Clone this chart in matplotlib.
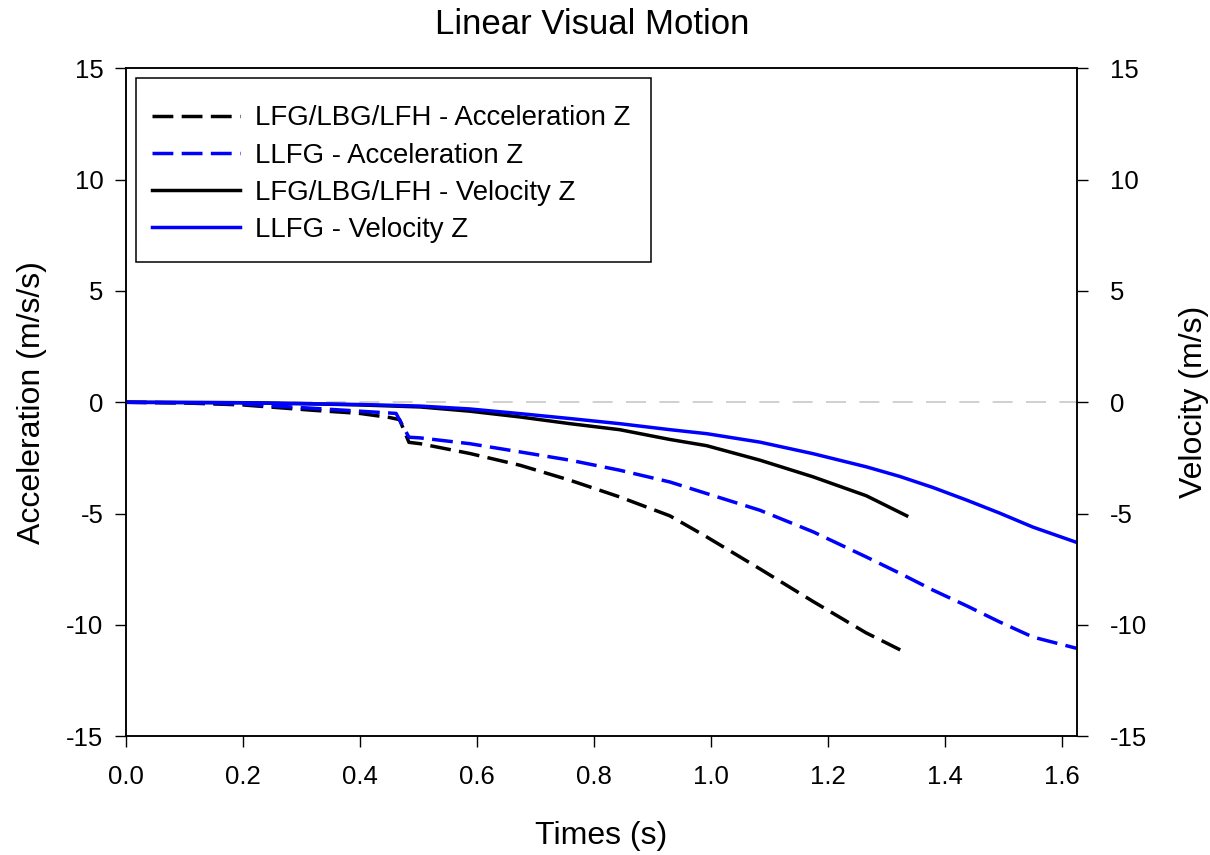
import matplotlib
matplotlib.use("Agg")
import matplotlib.pyplot as plt
from matplotlib.patches import Rectangle

plt.rcParams["font.family"] = ["Liberation Sans", "DejaVu Sans"]
plt.rcParams["axes.unicode_minus"] = False

t_acc_lfg = [0, 0.1, 0.2, 0.32, 0.40, 0.45, 0.468, 0.484, 0.503, 0.588, 0.674, 0.759,
             0.844, 0.930, 0.99, 1.085, 1.175, 1.265, 1.335]
acc_lfg = [0, -0.03, -0.12, -0.36, -0.5, -0.68, -0.78, -1.8, -1.86, -2.3, -2.83, -3.5,
           -4.25, -5.1, -6.0, -7.5, -8.95, -10.35, -11.27]

t_acc_llfg = [0, 0.1, 0.2, 0.32, 0.40, 0.462, 0.484, 0.503, 0.588, 0.674, 0.759, 0.844,
              0.930, 0.993, 1.084, 1.175, 1.266, 1.323, 1.380, 1.438, 1.494, 1.551,
              1.591, 1.625]
acc_llfg = [0, -0.02, -0.08, -0.27, -0.4, -0.5, -1.57, -1.6, -1.86, -2.23, -2.6, -3.05,
            -3.58, -4.1, -4.85, -5.82, -6.95, -7.68, -8.44, -9.15, -9.87, -10.55,
            -10.82, -11.05]

t_vel_lfg = [0, 0.2, 0.3, 0.4, 0.503, 0.588, 0.674, 0.759, 0.844, 0.930, 0.993, 1.084,
             1.175, 1.266, 1.335]
vel_lfg = [0, -0.02, -0.06, -0.12, -0.21, -0.4, -0.66, -0.96, -1.23, -1.67, -1.95, -2.6,
           -3.35, -4.2, -5.1]

t_vel_llfg = [0, 0.2, 0.3, 0.4, 0.503, 0.588, 0.674, 0.759, 0.844, 0.930, 0.993, 1.084,
              1.175, 1.266, 1.323, 1.380, 1.438, 1.494, 1.551, 1.625]
vel_llfg = [0, -0.02, -0.06, -0.1, -0.17, -0.3, -0.51, -0.73, -0.96, -1.23, -1.41, -1.79,
            -2.31, -2.9, -3.33, -3.83, -4.4, -4.98, -5.61, -6.29]

labels = [
    "LFG/LBG/LFH - Acceleration Z",
    "LLFG - Acceleration Z",
    "LFG/LBG/LFH - Velocity Z",
    "LLFG - Velocity Z",
]

x_ticks = [0.0, 0.2, 0.4, 0.6, 0.8, 1.0, 1.2, 1.4, 1.6]
y_ticks = [-15, -10, -5, 0, 5, 10, 15]

fig = plt.figure(figsize=(12.1, 8.55), dpi=100)
ax = fig.add_axes([0.104, 0.139, 0.786, 0.781])
ax2 = ax.twinx()

lw = 2.5
dash = (6.0, 2.4)
ax.axhline(0, color="#c8c8c8", lw=1.2, dashes=(12, 8), zorder=0)
h1, = ax.plot(t_acc_lfg, acc_lfg, color="black", lw=lw, dashes=dash)
h2, = ax.plot(t_acc_llfg, acc_llfg, color="blue", lw=lw, dashes=dash)
h3, = ax2.plot(t_vel_lfg, vel_lfg, color="black", lw=lw)
h4, = ax2.plot(t_vel_llfg, vel_llfg, color="blue", lw=lw)

for a in (ax, ax2):
    a.set_xlim(0, 1.626)
    a.set_ylim(-15, 15)
    a.set_yticks(y_ticks)
    a.tick_params(labelsize=18.5, length=8, width=1, direction="out")
    for s in a.spines.values():
        s.set_linewidth(1.1)
ax.set_xticks(x_ticks)
ax.set_xticklabels([f"{v:.1f}" for v in x_ticks])
ax.tick_params(axis="x", pad=13)
ax.tick_params(axis="y", pad=8)
ax2.tick_params(axis="y", pad=16)

ax.set_xlabel("Times (s)", fontsize=23, labelpad=23)
ax.set_ylabel("Acceleration (m/s/s)", fontsize=23, labelpad=14)
ax2.set_ylabel("Velocity (m/s)", fontsize=23, labelpad=23)
ax.set_title("Linear Visual Motion", fontsize=25, pad=25, x=0.49)

# legend entries without frame; the box is drawn separately
leg = ax2.legend([h1, h2, h3, h4], labels, loc="upper left",
                 bbox_to_anchor=(0.0273, 0.9445), borderaxespad=0,
                 fontsize=19.9, handlelength=3.2, labelspacing=0.4,
                 borderpad=0, handletextpad=0.55, frameon=False)
ax2.add_patch(Rectangle((0.0105, 0.7096), 0.5415, 0.2754, transform=ax2.transAxes,
                        facecolor="white", edgecolor="black", lw=1.1, zorder=4))
leg.set_zorder(5)

fig.savefig("out.png", dpi=100)
